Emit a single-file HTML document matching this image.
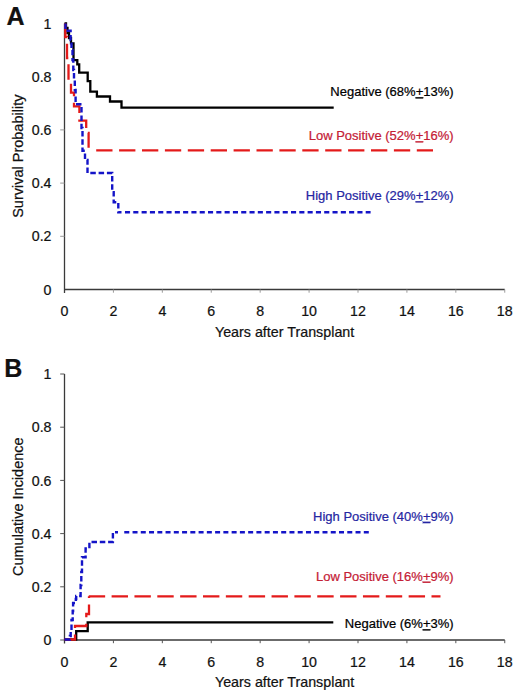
<!DOCTYPE html>
<html><head><meta charset="utf-8"><style>
html,body{margin:0;padding:0;background:#fff;width:520px;height:696px;overflow:hidden}
svg{display:block;fill:#111}
text{font-family:"Liberation Sans", sans-serif;stroke:#111;stroke-width:0.22px}
</style></head><body>
<svg width="520" height="696" viewBox="0 0 520 696">
<rect width="520" height="696" fill="#fff"/>
<line x1="64.5" y1="23.5" x2="64.5" y2="293.0" stroke="#3a3a3a" stroke-width="1.3"/>
<line x1="64.5" y1="289.5" x2="504.75" y2="289.5" stroke="#3a3a3a" stroke-width="1.3"/>
<line x1="113.42" y1="289.5" x2="113.42" y2="292.7" stroke="#9a9a9a" stroke-width="1"/>
<line x1="162.33" y1="289.5" x2="162.33" y2="292.7" stroke="#9a9a9a" stroke-width="1"/>
<line x1="211.25" y1="289.5" x2="211.25" y2="292.7" stroke="#9a9a9a" stroke-width="1"/>
<line x1="260.17" y1="289.5" x2="260.17" y2="292.7" stroke="#9a9a9a" stroke-width="1"/>
<line x1="309.08" y1="289.5" x2="309.08" y2="292.7" stroke="#9a9a9a" stroke-width="1"/>
<line x1="358.00" y1="289.5" x2="358.00" y2="292.7" stroke="#9a9a9a" stroke-width="1"/>
<line x1="406.92" y1="289.5" x2="406.92" y2="292.7" stroke="#9a9a9a" stroke-width="1"/>
<line x1="455.83" y1="289.5" x2="455.83" y2="292.7" stroke="#9a9a9a" stroke-width="1"/>
<line x1="504.75" y1="289.5" x2="504.75" y2="292.7" stroke="#9a9a9a" stroke-width="1"/>
<line x1="60.2" y1="236.30" x2="64.5" y2="236.30" stroke="#9a9a9a" stroke-width="1"/>
<line x1="60.2" y1="183.10" x2="64.5" y2="183.10" stroke="#9a9a9a" stroke-width="1"/>
<line x1="60.2" y1="129.90" x2="64.5" y2="129.90" stroke="#9a9a9a" stroke-width="1"/>
<text x="51.5" y="294.60" text-anchor="end" font-size="14.2">0</text>
<text x="51.5" y="241.40" text-anchor="end" font-size="14.2">0.2</text>
<text x="51.5" y="188.20" text-anchor="end" font-size="14.2">0.4</text>
<text x="51.5" y="135.00" text-anchor="end" font-size="14.2">0.6</text>
<text x="51.5" y="81.80" text-anchor="end" font-size="14.2">0.8</text>
<text x="51.5" y="28.60" text-anchor="end" font-size="14.2">1</text>
<text x="64.50" y="316.20" text-anchor="middle" font-size="14.2">0</text>
<text x="113.42" y="316.20" text-anchor="middle" font-size="14.2">2</text>
<text x="162.33" y="316.20" text-anchor="middle" font-size="14.2">4</text>
<text x="211.25" y="316.20" text-anchor="middle" font-size="14.2">6</text>
<text x="260.17" y="316.20" text-anchor="middle" font-size="14.2">8</text>
<text x="309.08" y="316.20" text-anchor="middle" font-size="14.2">10</text>
<text x="358.00" y="316.20" text-anchor="middle" font-size="14.2">12</text>
<text x="406.92" y="316.20" text-anchor="middle" font-size="14.2">14</text>
<text x="455.83" y="316.20" text-anchor="middle" font-size="14.2">16</text>
<text x="504.75" y="316.20" text-anchor="middle" font-size="14.2">18</text>
<text x="284.6" y="336.80" text-anchor="middle" font-size="14.3">Years after Transplant</text>
<text transform="translate(23.2,156.20) rotate(-90)" x="0" y="0" text-anchor="middle" font-size="14.5">Survival Probability</text>
<text x="6.5" y="24.9" font-size="25" font-weight="bold">A</text>
<path d="M64.5,23.5 H66 V28 H67.5 V33 H69 V38 H71 V43.3 H73.5 V60.1 H77.3 V64.4 H79.2 V72.6 H87.7 V81.2 H90.3 V91.6 H96.9 V96.5 H110 V101.5 H121.5 V107.6 H333.7" fill="none" stroke="#000" stroke-width="2.3" stroke-linejoin="miter" stroke-linecap="butt"/>
<path d="M65.3,23.5 V37 H67 V58 H68.5 V80 H71 V92.7 H74 V106.3 H79.4 V120.7 H86.2 V133 H88.6 V150.4 H90" fill="none" stroke="#e41a1a" stroke-width="2.3" stroke-dasharray="15.5 6.5" stroke-linejoin="miter" stroke-linecap="butt"/>
<path d="M96.20,150.4 H112.50 M119.10,150.4 H135.40 M142.00,150.4 H158.30 M164.90,150.4 H181.20 M187.80,150.4 H204.10 M210.70,150.4 H227.00 M233.60,150.4 H249.90 M256.50,150.4 H272.80 M279.40,150.4 H295.70 M302.30,150.4 H318.60 M325.20,150.4 H341.50 M348.10,150.4 H364.40 M371.00,150.4 H387.30 M393.90,150.4 H410.20 M416.80,150.4 H433.00" fill="none" stroke="#e41a1a" stroke-width="2.3"/>
<path d="M65.5,23.5 V30.8 H70.6 V40 H71.5 V50 H72.5 V60 H73.3 V70 H74 V80 H74.8 V90 H75.6 V104.3 H81.5 V128 H82.5 V150.8 H85 V160 H87.5 V173 H112.2 V192.2 H113.7 V202.3 H118.3 V212.2 H121.5" fill="none" stroke="#1414c8" stroke-width="2.4" stroke-dasharray="5.5 2.8" stroke-linejoin="miter" stroke-linecap="butt"/>
<path d="M125.00,212.2 H130.10 M133.30,212.2 H138.40 M141.60,212.2 H146.70 M149.90,212.2 H155.00 M158.20,212.2 H163.30 M166.50,212.2 H171.60 M174.80,212.2 H179.90 M183.10,212.2 H188.20 M191.40,212.2 H196.50 M199.70,212.2 H204.80 M208.00,212.2 H213.10 M216.30,212.2 H221.40 M224.60,212.2 H229.70 M232.90,212.2 H238.00 M241.20,212.2 H246.30 M249.50,212.2 H254.60 M257.80,212.2 H262.90 M266.10,212.2 H271.20 M274.40,212.2 H279.50 M282.70,212.2 H287.80 M291.00,212.2 H296.10 M299.30,212.2 H304.40 M307.60,212.2 H312.70 M315.90,212.2 H321.00 M324.20,212.2 H329.30 M332.50,212.2 H337.60 M340.80,212.2 H345.90 M349.10,212.2 H354.20 M357.40,212.2 H362.50 M365.70,212.2 H370.60" fill="none" stroke="#1414c8" stroke-width="2.4"/>
<text x="453.6" y="96.2" text-anchor="end" font-size="13" style="fill:#000;stroke:#000">Negative (68%<tspan text-decoration="underline">+</tspan>13%)</text>
<text x="453.6" y="140.2" text-anchor="end" font-size="13" style="fill:#c42035;stroke:#c42035">Low Positive (52%<tspan text-decoration="underline">+</tspan>16%)</text>
<text x="453.6" y="200.2" text-anchor="end" font-size="13" style="fill:#2626a2;stroke:#2626a2">High Positive (29%<tspan text-decoration="underline">+</tspan>12%)</text>
<line x1="64.5" y1="374" x2="64.5" y2="643.5" stroke="#3a3a3a" stroke-width="1.3"/>
<line x1="64.5" y1="640" x2="504.75" y2="640" stroke="#3a3a3a" stroke-width="1.3"/>
<line x1="113.42" y1="640" x2="113.42" y2="643.2" stroke="#555" stroke-width="1"/>
<line x1="162.33" y1="640" x2="162.33" y2="643.2" stroke="#555" stroke-width="1"/>
<line x1="211.25" y1="640" x2="211.25" y2="643.2" stroke="#555" stroke-width="1"/>
<line x1="260.17" y1="640" x2="260.17" y2="643.2" stroke="#555" stroke-width="1"/>
<line x1="309.08" y1="640" x2="309.08" y2="643.2" stroke="#555" stroke-width="1"/>
<line x1="358.00" y1="640" x2="358.00" y2="643.2" stroke="#555" stroke-width="1"/>
<line x1="406.92" y1="640" x2="406.92" y2="643.2" stroke="#555" stroke-width="1"/>
<line x1="455.83" y1="640" x2="455.83" y2="643.2" stroke="#555" stroke-width="1"/>
<line x1="504.75" y1="640" x2="504.75" y2="643.2" stroke="#555" stroke-width="1"/>
<line x1="60.2" y1="640.00" x2="64.5" y2="640.00" stroke="#555" stroke-width="1"/>
<line x1="60.2" y1="586.80" x2="64.5" y2="586.80" stroke="#555" stroke-width="1"/>
<line x1="60.2" y1="533.60" x2="64.5" y2="533.60" stroke="#555" stroke-width="1"/>
<line x1="60.2" y1="480.40" x2="64.5" y2="480.40" stroke="#555" stroke-width="1"/>
<line x1="60.2" y1="427.20" x2="64.5" y2="427.20" stroke="#555" stroke-width="1"/>
<line x1="60.2" y1="374.00" x2="64.5" y2="374.00" stroke="#555" stroke-width="1"/>
<text x="51.5" y="645.10" text-anchor="end" font-size="14.2">0</text>
<text x="51.5" y="591.90" text-anchor="end" font-size="14.2">0.2</text>
<text x="51.5" y="538.70" text-anchor="end" font-size="14.2">0.4</text>
<text x="51.5" y="485.50" text-anchor="end" font-size="14.2">0.6</text>
<text x="51.5" y="432.30" text-anchor="end" font-size="14.2">0.8</text>
<text x="51.5" y="379.10" text-anchor="end" font-size="14.2">1</text>
<text x="64.50" y="666.70" text-anchor="middle" font-size="14.2">0</text>
<text x="113.42" y="666.70" text-anchor="middle" font-size="14.2">2</text>
<text x="162.33" y="666.70" text-anchor="middle" font-size="14.2">4</text>
<text x="211.25" y="666.70" text-anchor="middle" font-size="14.2">6</text>
<text x="260.17" y="666.70" text-anchor="middle" font-size="14.2">8</text>
<text x="309.08" y="666.70" text-anchor="middle" font-size="14.2">10</text>
<text x="358.00" y="666.70" text-anchor="middle" font-size="14.2">12</text>
<text x="406.92" y="666.70" text-anchor="middle" font-size="14.2">14</text>
<text x="455.83" y="666.70" text-anchor="middle" font-size="14.2">16</text>
<text x="504.75" y="666.70" text-anchor="middle" font-size="14.2">18</text>
<text x="284.6" y="687.30" text-anchor="middle" font-size="14.3">Years after Transplant</text>
<text transform="translate(23.2,506.70) rotate(-90)" x="0" y="0" text-anchor="middle" font-size="14.5">Cumulative Incidence</text>
<text x="4.3" y="376.9" font-size="25" font-weight="bold">B</text>
<path d="M64.5,639.5 H76.2 V631.1 H87.7 V622.3 H333.3" fill="none" stroke="#000" stroke-width="2.3" stroke-linejoin="miter" stroke-linecap="butt"/>
<path d="M64.5,639.5 H75 V626 H86.3 V614 H89 V596.3 H89" fill="none" stroke="#e41a1a" stroke-width="2.3" stroke-dasharray="15.5 6.5" stroke-linejoin="miter" stroke-linecap="butt"/>
<path d="M88.75,596.3 H105.15 M111.60,596.3 H128.00 M134.45,596.3 H150.85 M157.30,596.3 H173.70 M180.15,596.3 H196.55 M203.00,596.3 H219.40 M225.85,596.3 H242.25 M248.70,596.3 H265.10 M271.55,596.3 H287.95 M294.40,596.3 H310.80 M317.25,596.3 H333.65 M340.10,596.3 H356.50 M362.95,596.3 H379.35 M385.80,596.3 H402.20 M408.65,596.3 H425.05 M431.50,596.3 H440.50" fill="none" stroke="#e41a1a" stroke-width="2.3"/>
<path d="M64.5,639.5 H69.9 V636 H70.7 V630 H71.5 V620 H72.7 V611 H73.1 V603 H75.8 V599 H76.2 V596 H80.6 V585 H81.3 V572 H82 V557.2 H85.6 V548.5 H89.4 V542 H112.9 V532.3 H118" fill="none" stroke="#1414c8" stroke-width="2.4" stroke-dasharray="5.5 2.8" stroke-linejoin="miter" stroke-linecap="butt"/>
<path d="M124.25,532.3 H129.25 M132.51,532.3 H137.51 M140.77,532.3 H145.77 M149.03,532.3 H154.03 M157.29,532.3 H162.29 M165.55,532.3 H170.55 M173.81,532.3 H178.81 M182.07,532.3 H187.07 M190.33,532.3 H195.33 M198.59,532.3 H203.59 M206.85,532.3 H211.85 M215.11,532.3 H220.11 M223.37,532.3 H228.37 M231.63,532.3 H236.63 M239.89,532.3 H244.89 M248.15,532.3 H253.15 M256.41,532.3 H261.41 M264.67,532.3 H269.67 M272.93,532.3 H277.93 M281.19,532.3 H286.19 M289.45,532.3 H294.45 M297.71,532.3 H302.71 M305.97,532.3 H310.97 M314.23,532.3 H319.23 M322.49,532.3 H327.49 M330.75,532.3 H335.75 M339.01,532.3 H344.01 M347.27,532.3 H352.27 M355.53,532.3 H360.53 M363.79,532.3 H368.79" fill="none" stroke="#1414c8" stroke-width="2.4"/>
<text x="453.6" y="520.8" text-anchor="end" font-size="13" style="fill:#2626a2;stroke:#2626a2">High Positive (40%<tspan text-decoration="underline">+</tspan>9%)</text>
<text x="453.6" y="580.6" text-anchor="end" font-size="13" style="fill:#c42035;stroke:#c42035">Low Positive (16%<tspan text-decoration="underline">+</tspan>9%)</text>
<text x="453.6" y="628.2" text-anchor="end" font-size="13" style="fill:#000;stroke:#000">Negative (6%<tspan text-decoration="underline">+</tspan>3%)</text>
</svg>
</body></html>
